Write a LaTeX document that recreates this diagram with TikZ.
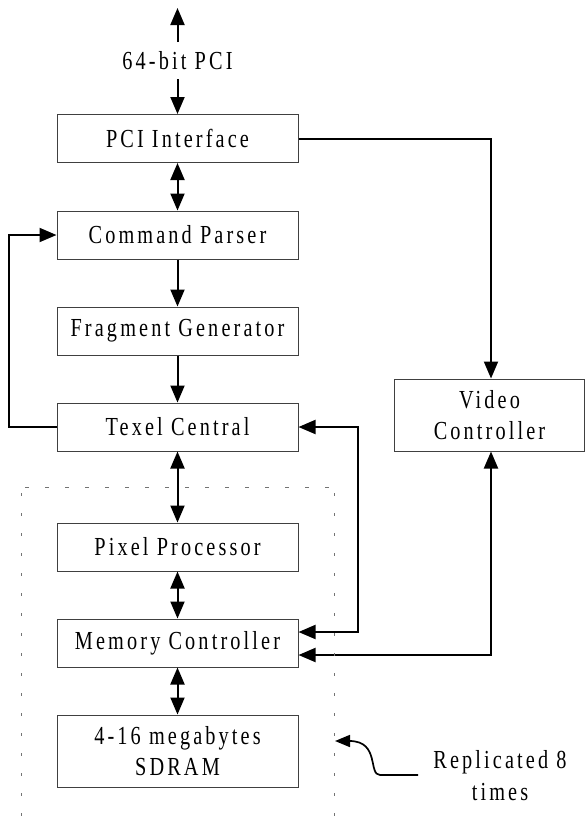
\documentclass[tikz,border=0pt]{standalone}
\usepackage{fontspec}
\setmainfont{Liberation Serif}[FakeStretch=0.78, LetterSpace=12]
\usetikzlibrary{arrows.meta}
\begin{document}
\begin{tikzpicture}[x=1pt,y=-1pt,
  blk/.style={draw=black!75, line width=1pt, minimum width=241pt, minimum height=48pt, inner sep=0pt, align=center, font=\fontsize{26}{31}\selectfont},
  tip/.tip={Triangle[length=17pt,width=14pt]},
  conn/.style={line width=2pt, -tip},
  bconn/.style={line width=2pt, tip-tip},
  lbl/.style={font=\fontsize{26}{32}\selectfont, align=center, inner sep=0pt},
  dotbox/.style={draw=black!55, line width=1pt}
]
\useasboundingbox (0,0) rectangle (585,820);
% boxes
\node[blk] (pci) at (177.5,138.5) {PCI Interface};
\node[blk] (cmd) at (177.5,235) {Command Parser};
\node[blk] (frag) at (177.5,331) {Fragment Generator};
\node[blk] (texel) at (177.5,427) {Texel Central};
\node[blk] (pixel) at (177.5,547) {Pixel Processor};
\node[blk] (mem) at (177.5,643) {Memory Controller};
\node[blk, minimum height=72pt] (sdram) at (177.5,751) {4-16 megabytes\\SDRAM};
\node[blk, minimum width=190pt, minimum height=72pt] (video) at (489.5,415) {Video\\Controller};
% top bus
\node[lbl] (bus) at (177.5,61) {64-bit PCI};
\coordinate (bustop) at (177.5,8);
\coordinate (busa) at (177.5,42);
\coordinate (busb) at (177.5,79);
\draw[conn] (busa) -- (bustop);
\draw[conn] (busb) -- (pci.north);
% main chain
\draw[bconn] (pci.south) -- (cmd.north);
\draw[conn] (cmd.south) -- (frag.north);
\draw[conn] (frag.south) -- (texel.north);
\draw[bconn] (texel.south) -- (pixel.north);
\draw[bconn] (pixel.south) -- (mem.north);
\draw[bconn] (mem.south) -- (sdram.north);
% feedback
\coordinate (fb1) at (9,427);
\coordinate (fb2) at (9,235);
\draw[conn] (texel.west) -- (fb1) -- (fb2) -- (cmd.west);
% pci to video
\draw[conn] (pci.east |- 0,139) -- (491,139) -- (video.north -| 491,0);
% mem <-> texel
\coordinate (mt1) at (358,632);
\coordinate (mt2) at (358,427);
\draw[bconn] (mem.east |- mt1) -- (mt1) -- (mt2) -- (texel.east);
% mem <-> video
\coordinate (mv1) at (491,655);
\draw[bconn] (mem.east |- mv1) -- (mv1) -- (video.south -| mv1);
% dotted replication region
\draw[dotbox, dash pattern=on 4pt off 16pt] (25,487) -- (334,487);
\draw[dotbox, dash pattern=on 2.5pt off 17.5pt] (21,493) -- (21,820);
\draw[dotbox, dash pattern=on 2.5pt off 17.5pt] (334,493) -- (334,820);
% annotation
\node[lbl] (rep) at (500,776) {Replicated 8\\times};
\coordinate (repa) at (418,775);
\coordinate (repb) at (380,775);
\coordinate (rept) at (335,741);
\draw[line width=1.7pt, -{Triangle[length=15pt,width=12pt]}] (repa) -- (repb) .. controls (368,775) and (380,741) .. (rept);
\end{tikzpicture}
\end{document}
